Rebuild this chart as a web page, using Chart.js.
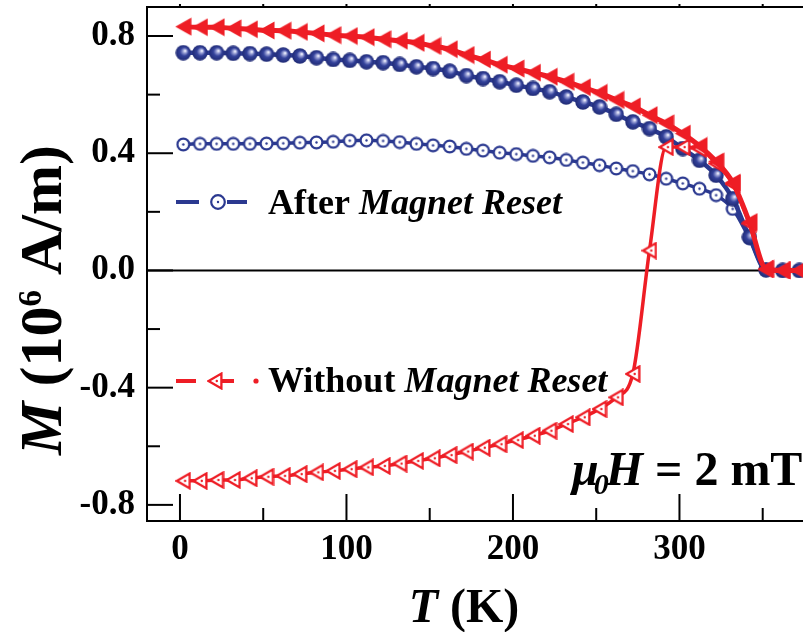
<!DOCTYPE html>
<html>
<head>
<meta charset="utf-8">
<title>M vs T</title>
<script src="https://cdn.jsdelivr.net/npm/chart.js@4.4.0/dist/chart.umd.min.js"></script>
<style>
  html, body { margin: 0; padding: 0; background: #fff; }
  canvas { display: block; }
</style>
</head>
<body>
<canvas id="mt-chart" width="803" height="632"></canvas>
<script>
// Temperature points (K)
const temps = [2, 12, 22, 32, 42, 52, 62, 72, 82, 92, 102, 112, 122, 132, 142, 152, 162, 172, 182, 192,
               202, 212, 222, 232, 242, 252, 262, 272, 282, 292, 302, 312, 322, 332, 342, 352, 362, 372];

// Magnetization (10^6 A/m)
const afterFilled = [0.743, 0.743, 0.743, 0.741, 0.740, 0.738, 0.735, 0.732, 0.726, 0.720,
                     0.717, 0.712, 0.709, 0.703, 0.695, 0.689, 0.680, 0.665, 0.655, 0.644,
                     0.632, 0.621, 0.610, 0.592, 0.575, 0.558, 0.533, 0.507, 0.484, 0.456,
                     0.416, 0.376, 0.325, 0.245, 0.114, 0.002, 0.0, 0.0];
const afterOpen = [0.430, 0.432, 0.432, 0.432, 0.432, 0.433, 0.434, 0.436, 0.437, 0.439,
                   0.443, 0.444, 0.442, 0.438, 0.432, 0.427, 0.423, 0.415, 0.409, 0.402,
                   0.397, 0.391, 0.386, 0.377, 0.368, 0.359, 0.348, 0.339, 0.328, 0.313,
                   0.297, 0.279, 0.257, 0.210, 0.110, 0.002, 0.0, 0.0];
const withoutFilled = [0.832, 0.830, 0.830, 0.826, 0.823, 0.819, 0.818, 0.814, 0.809, 0.803,
                       0.800, 0.796, 0.789, 0.784, 0.777, 0.766, 0.755, 0.735, 0.720, 0.702,
                       0.689, 0.675, 0.661, 0.644, 0.625, 0.606, 0.582, 0.560, 0.530, 0.502,
                       0.467, 0.425, 0.372, 0.300, 0.165, 0.005, 0.0, 0.0];
const withoutOpen = [-0.718, -0.718, -0.715, -0.715, -0.709, -0.704, -0.701, -0.695, -0.689, -0.684,
                     -0.678, -0.672, -0.667, -0.659, -0.650, -0.641, -0.630, -0.618, -0.605, -0.593,
                     -0.579, -0.564, -0.547, -0.524, -0.501, -0.473, -0.433, -0.353, 0.068, 0.421,
                     0.421, 0.415, 0.365, 0.295, 0.160, 0.004, 0.0, 0.0];

// Tick positions; only the major ones carry a label
const xTicks = [0, 50, 100, 150, 200, 250, 300, 350];
const yTicks = [-0.8, -0.6, -0.4, -0.2, 0.0, 0.2, 0.4, 0.6, 0.8];

const NAVY = '#2b3990';
const RED = '#ee1d25';
const SERIF = '"Liberation Serif", "Times New Roman", serif';

// Marker sprites
function sprite(w, h, paint) {
  const c = document.createElement('canvas');
  c.width = w; c.height = h;
  paint(c.getContext('2d'));
  return c;
}

const sphere = sprite(16, 16, g => {
  const grad = g.createRadialGradient(10, 6, 0.4, 8, 8, 8);
  grad.addColorStop(0, '#f2f3ff');
  grad.addColorStop(0.2, '#9aa1d6');
  grad.addColorStop(0.5, '#34429b');
  grad.addColorStop(1, '#1e2972');
  g.fillStyle = grad;
  g.beginPath(); g.arc(8, 8, 7.7, 0, Math.PI * 2); g.fill();
});

const ring = sprite(15, 15, g => {
  g.beginPath(); g.arc(7.5, 7.5, 5.9, 0, Math.PI * 2);
  g.fillStyle = '#fff'; g.fill();
  g.lineWidth = 2.2; g.strokeStyle = NAVY; g.stroke();
  g.beginPath(); g.arc(7.5, 7.5, 1.2, 0, Math.PI * 2);
  g.fillStyle = NAVY; g.fill();
});

const triFilled = sprite(17, 19, g => {
  g.beginPath(); g.moveTo(0.5, 9.5); g.lineTo(16.5, 0.5); g.lineTo(16.5, 18.5); g.closePath();
  g.fillStyle = RED; g.fill();
});

const triOpen = sprite(16, 18, g => {
  g.beginPath(); g.moveTo(1.6, 9); g.lineTo(14.4, 1.6); g.lineTo(14.4, 16.4); g.closePath();
  g.fillStyle = '#fff'; g.fill();
  g.lineWidth = 2.3; g.strokeStyle = RED; g.lineJoin = 'miter'; g.stroke();
  g.beginPath(); g.arc(9.8, 9, 1.2, 0, Math.PI * 2);
  g.fillStyle = RED; g.fill();
});

const toPoints = ys => temps.map((t, i) => ({ x: t, y: ys[i] }));

// Text with mixed upright/italic runs
function runFont(p, size) {
  return (p.italic ? 'italic ' : '') + 'bold ' + (p.size || size) + 'px ' + SERIF;
}
function richWidth(ctx, parts, size) {
  let w = 0;
  parts.forEach(p => { ctx.font = runFont(p, size); w += ctx.measureText(p.text).width + (p.kern || 0); });
  return w;
}
function drawRich(ctx, parts, x, y, size) {
  let cx = x;
  parts.forEach(p => {
    ctx.font = runFont(p, size);
    ctx.fillText(p.text, cx, y + (p.dy || 0));
    cx += ctx.measureText(p.text).width + (p.kern || 0);
  });
}

const isMajorX = v => Math.round(v) % 100 === 0;
const isMajorY = v => Math.abs(Math.round(v * 10)) % 4 === 0;

const decorations = {
  id: 'decorations',
  beforeDatasetsDraw(chart) {
    const { ctx, chartArea: a, scales: { x, y } } = chart;
    ctx.save();
    ctx.strokeStyle = '#000';
    const seg = (x1, y1, x2, y2) => { ctx.beginPath(); ctx.moveTo(x1, y1); ctx.lineTo(x2, y2); ctx.stroke(); };

    // zero line
    ctx.lineWidth = 2;
    const y0 = y.getPixelForValue(0);
    seg(a.left, y0, a.right, y0);

    // top frame
    seg(a.left, a.top, a.right, a.top);

    // inward tick marks
    y.ticks.forEach(t => {
      const p = y.getPixelForValue(t.value);
      seg(a.left, p, a.left + (isMajorY(t.value) ? 26 : 13), p);
    });
    x.ticks.forEach(t => {
      const p = x.getPixelForValue(t.value);
      seg(p, a.bottom, p, a.bottom - (isMajorX(t.value) ? 27 : 13));
      seg(p, a.top, p, a.top - 3);
    });
    ctx.restore();
  },
  afterDraw(chart) {
    const { ctx } = chart;
    ctx.save();
    ctx.fillStyle = '#000';
    ctx.textBaseline = 'alphabetic';

    // legend samples
    ctx.lineWidth = 4;
    ctx.strokeStyle = NAVY;
    ctx.beginPath(); ctx.moveTo(176, 202); ctx.lineTo(199, 202); ctx.moveTo(227, 202); ctx.lineTo(247, 202); ctx.stroke();
    ctx.beginPath(); ctx.arc(218, 202, 6.8, 0, Math.PI * 2);
    ctx.fillStyle = '#fff'; ctx.fill();
    ctx.lineWidth = 2.2; ctx.stroke();
    ctx.beginPath(); ctx.arc(218, 202, 1.2, 0, Math.PI * 2);
    ctx.fillStyle = NAVY; ctx.fill();

    ctx.lineWidth = 4;
    ctx.strokeStyle = RED;
    ctx.beginPath(); ctx.moveTo(176, 381); ctx.lineTo(196, 381); ctx.moveTo(221, 381); ctx.lineTo(234, 381); ctx.stroke();
    ctx.drawImage(triOpen, 207, 372);
    ctx.beginPath(); ctx.arc(256, 381, 2.6, 0, Math.PI * 2);
    ctx.fillStyle = RED; ctx.fill();

    ctx.fillStyle = '#000';
    drawRich(ctx, [{ text: 'After ' }, { text: 'Magnet Reset', italic: true }], 268, 214, 36);
    drawRich(ctx, [{ text: 'Without ' }, { text: 'Magnet Reset', italic: true }], 268, 392, 36);

    // field annotation
    drawRich(ctx, [
      { text: 'μ', italic: true, kern: -5 },
      { text: '0', italic: true, size: 30, dy: 9, kern: -3 },
      { text: 'H', italic: true },
      { text: ' = 2 mT' }
    ], 572, 485, 48);

    // x axis title
    const xt = [{ text: 'T', italic: true }, { text: ' (K)' }];
    drawRich(ctx, xt, 464 - richWidth(ctx, xt, 48) / 2, 622, 48);

    // y axis title
    const yt = [
      { text: 'M', italic: true },
      { text: ' (10' },
      { text: '6', size: 33, dy: -20 },
      { text: ' A/m)' }
    ];
    ctx.translate(61, 300);
    ctx.rotate(-Math.PI / 2);
    drawRich(ctx, yt, -richWidth(ctx, yt, 60) / 2, 0, 60);
    ctx.restore();
  }
};

const tickFont = { family: SERIF, size: 35, weight: 'bold' };

// keep the plot frame fixed: no extra room for label overhang
function pinPadding(s) {
  s.paddingLeft = 0; s.paddingRight = 0; s.paddingTop = 0; s.paddingBottom = 0;
}

new Chart(document.getElementById('mt-chart'), {
  type: 'line',
  data: {
    datasets: [
      { label: 'Without Magnet Reset (upper)', data: toPoints(withoutFilled), borderColor: RED, borderWidth: 5,
        pointStyle: triFilled, pointRadius: 8 },
      { label: 'Without Magnet Reset', data: toPoints(withoutOpen), borderColor: RED, borderWidth: 3.5,
        pointStyle: triOpen, pointRadius: 8 },
      { label: 'After Magnet Reset (upper)', data: toPoints(afterFilled), borderColor: NAVY, borderWidth: 4.5,
        pointStyle: sphere, pointRadius: 8 },
      { label: 'After Magnet Reset', data: toPoints(afterOpen), borderColor: NAVY, borderWidth: 3.5,
        pointStyle: ring, pointRadius: 7 }
    ]
  },
  options: {
    responsive: false,
    animation: false,
    devicePixelRatio: 1,
    layout: { autoPadding: false, padding: { top: 7, right: 0, left: 0, bottom: 0 } },
    elements: { line: { cubicInterpolationMode: 'monotone', fill: false } },
    plugins: { legend: { display: false }, tooltip: { enabled: false } },
    scales: {
      x: {
        type: 'linear',
        bounds: 'data',
        min: -19.8,
        max: 374.2,
        grid: { display: false, drawTicks: false },
        border: { display: true, color: '#000', width: 2 },
        afterBuildTicks: s => { s.ticks = xTicks.map(v => ({ value: v })); },
        ticks: {
          autoSkip: false,
          maxRotation: 0,
          padding: 8,
          color: '#000',
          font: tickFont,
          callback: v => isMajorX(v) ? String(Math.round(v)) : ''
        },
        afterFit: s => { s.height = 111; pinPadding(s); }
      },
      y: {
        type: 'linear',
        bounds: 'data',
        min: -0.855,
        max: 0.899,
        grid: { display: false, drawTicks: false },
        border: { display: true, color: '#000', width: 2 },
        afterBuildTicks: s => { s.ticks = yTicks.map(v => ({ value: v })); },
        ticks: {
          autoSkip: false,
          padding: 12,
          color: '#000',
          font: tickFont,
          callback: v => isMajorY(v) ? v.toFixed(1) : ''
        },
        afterFit: s => { s.width = 147; pinPadding(s); }
      }
    }
  },
  plugins: [decorations]
});
</script>
</body>
</html>
